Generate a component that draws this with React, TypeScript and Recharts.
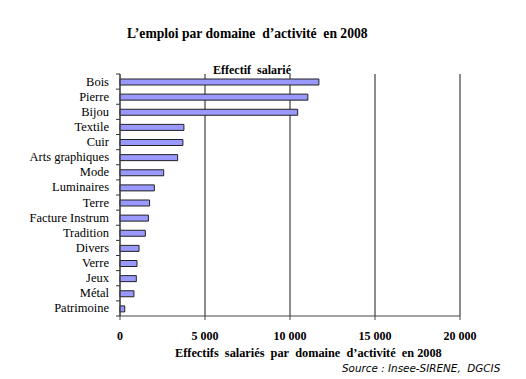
import React from 'react';
import { BarChart, Bar, XAxis, YAxis, CartesianGrid } from 'recharts';

const categories = [
  'Bois', 'Pierre', 'Bijou', 'Textile', 'Cuir', 'Arts graphiques', 'Mode', 'Luminaires',
  'Terre', 'Facture Instrum', 'Tradition', 'Divers', 'Verre', 'Jeux', 'Métal', 'Patrimoine',
];
const effectifs = [
  11700, 11050, 10450, 3760, 3700, 3390, 2570, 2020,
  1740, 1670, 1490, 1120, 1000, 960, 820, 280,
];
const xTicks = [0, 5000, 10000, 15000, 20000];

const data = categories.map((name, i) => ({ name, value: effectifs[i] }));

const W = 526;
const H = 379;
const TOP = 74;
const BOTTOM = 316;
const LEFT = 120;
const RIGHT = 460;
const BAND = (BOTTOM - TOP) / categories.length;

const serif = '"Liberation Serif", "Times New Roman", serif';

const fmt = (v: number) => {
  const s = String(v);
  return s.replace(/\B(?=(\d{3})+(?!\d))/g, ' ');
};

const YTick = (props: any) => {
  const { x, y, payload, index } = props;
  const isLast = index === categories.length - 1;
  return (
    <g>
      <line x1={LEFT - 4} x2={LEFT} y1={y - BAND / 2} y2={y - BAND / 2} stroke="#333" strokeWidth={1} />
      {isLast && <line x1={LEFT - 4} x2={LEFT} y1={y + BAND / 2} y2={y + BAND / 2} stroke="#333" strokeWidth={1} />}
      <text x={x - 11} y={y} dy={4} textAnchor="end" fontFamily={serif} fontSize={12.5} fill="#000">
        {payload.value}
      </text>
    </g>
  );
};

export default function App() {
  return (
    <div style={{ position: 'absolute', left: 0, top: 0, width: W, height: H, background: '#fff' }}>
      <BarChart
        width={W}
        height={H}
        data={data}
        layout="vertical"
        margin={{ top: TOP, right: W - RIGHT, bottom: H - BOTTOM - 30, left: 0 }}
      >
        <CartesianGrid horizontal={false} vertical={true} stroke="#666" strokeWidth={1.5} />
        <XAxis
          type="number"
          domain={[0, 20000]}
          ticks={xTicks}
          tickFormatter={fmt}
          axisLine={{ stroke: '#444', strokeWidth: 1 }}
          tickLine={{ stroke: '#444' }}
          tickSize={4}
          tickMargin={11}
          height={30}
          tick={{ fontFamily: serif, fontSize: 12, fontWeight: 'bold', fill: '#000' }}
          interval={0}
        />
        <YAxis
          type="category"
          dataKey="name"
          width={LEFT}
          axisLine={{ stroke: '#444', strokeWidth: 1 }}
          tickLine={false}
          tickSize={0}
          tickMargin={0}
          tick={<YTick />}
          interval={0}
        />
        <Bar dataKey="value" fill="#9999ff" stroke="#222" strokeWidth={1} barSize={6} isAnimationActive={false} />
      </BarChart>
      <div style={{ position: 'absolute', left: 127, top: 26, fontFamily: serif, fontWeight: 'bold', fontSize: 13.6, color: '#000', whiteSpace: 'nowrap' }}>
        L’emploi par domaine&nbsp; d’activité&nbsp; en 2008
      </div>
      <div style={{ position: 'absolute', left: 213, top: 63, fontFamily: serif, fontWeight: 'bold', fontSize: 12, color: '#000', whiteSpace: 'nowrap' }}>
        Effectif&nbsp; salarié
      </div>
      <div style={{ position: 'absolute', left: 175, top: 346, fontFamily: serif, fontWeight: 'bold', fontSize: 12.3, color: '#000', whiteSpace: 'nowrap' }}>
        Effectifs&nbsp; salariés&nbsp; par&nbsp; domaine&nbsp; d’activité&nbsp; en 2008
      </div>
      <div style={{ position: 'absolute', left: 342, top: 362, fontFamily: '"DejaVu Sans", Verdana, sans-serif', fontStyle: 'italic', fontSize: 10.4, color: '#000', whiteSpace: 'nowrap' }}>
        Source : Insee-SIRENE,&nbsp; DGCIS
      </div>
    </div>
  );
}
